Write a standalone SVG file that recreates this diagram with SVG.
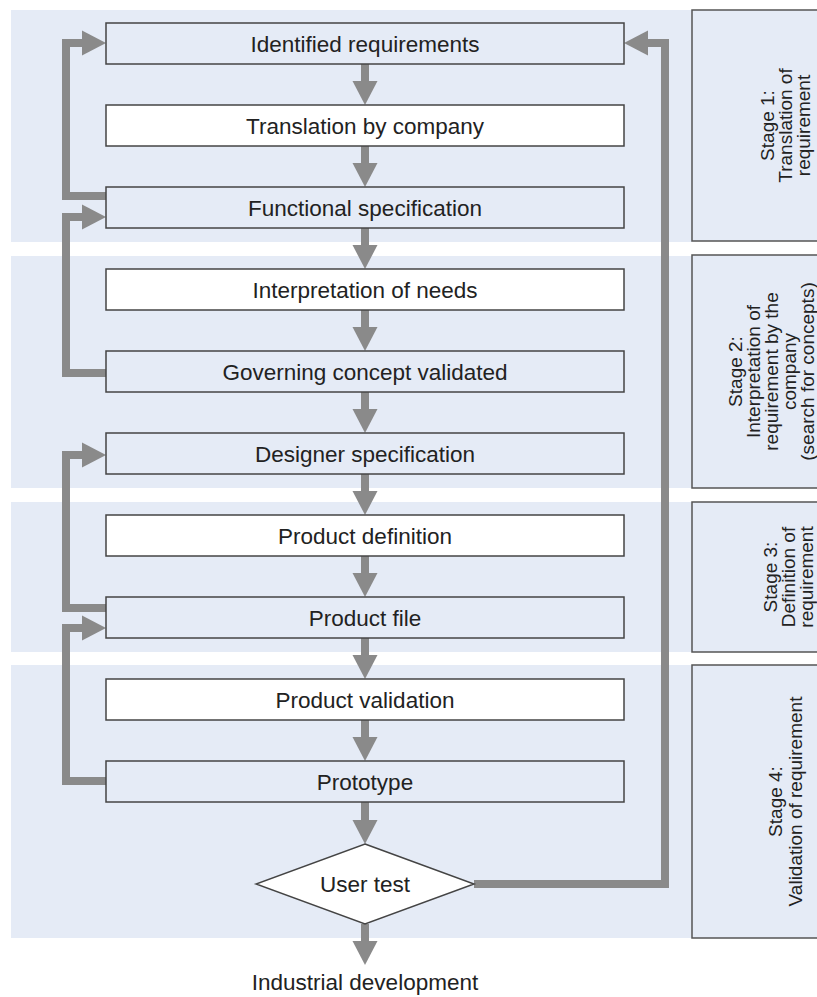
<svg xmlns="http://www.w3.org/2000/svg" width="817" height="997" viewBox="0 0 817 997">
<defs>
<marker id="ah" markerUnits="userSpaceOnUse" markerWidth="24" markerHeight="26" refX="0" refY="12.5" orient="auto" overflow="visible">
<path d="M0,0 L24,12.5 L0,25 z" fill="#8a8a8a"/>
</marker>
<style>
.band{fill:#e5ebf6;}
.stage{fill:#e5ebf6;stroke:#555;stroke-width:1.5;}
.box{stroke:#444;stroke-width:1.5;}
.blue{fill:#e5ebf6;}
.white{fill:#ffffff;}
.lbl{font-family:"Liberation Sans",Arial,sans-serif;font-size:22.5px;fill:#222;text-anchor:middle;}
.stg{font-family:"Liberation Sans",Arial,sans-serif;font-size:19px;fill:#222;text-anchor:middle;}
.con{fill:none;stroke:#8a8a8a;stroke-width:8;stroke-linejoin:miter;stroke-linecap:butt;marker-end:url(#ah);}
</style>
</defs>
<g id="bands">
<rect class="band" x="11" y="10" width="681" height="232"/>
<rect class="band" x="11" y="256" width="681" height="232"/>
<rect class="band" x="11" y="502" width="681" height="150"/>
<rect class="band" x="11" y="665" width="681" height="273"/>
</g>
<g id="stage1">
<rect class="stage" x="692" y="10" width="190" height="231"/>
<text class="stg" transform="translate(785,125.5) rotate(-90)"><tspan x="0" y="-11.4">Stage 1:</tspan><tspan x="0" y="6.6">Translation of</tspan><tspan x="0" y="24.6">requirement</tspan></text>
</g>
<g id="stage2">
<rect class="stage" x="692" y="255" width="190" height="233"/>
<text class="stg" transform="translate(771,371.5) rotate(-90)"><tspan x="0" y="-29.4">Stage 2:</tspan><tspan x="0" y="-11.4">Interpretation of</tspan><tspan x="0" y="6.6">requirement by the</tspan><tspan x="0" y="24.6">company</tspan><tspan x="0" y="42.6">(search for concepts)</tspan></text>
</g>
<g id="stage3">
<rect class="stage" x="692" y="502" width="190" height="150"/>
<text class="stg" transform="translate(788,577) rotate(-90)"><tspan x="0" y="-11.4">Stage 3:</tspan><tspan x="0" y="6.6">Definition of</tspan><tspan x="0" y="24.6">requirement</tspan></text>
</g>
<g id="stage4">
<rect class="stage" x="692" y="665" width="190" height="273"/>
<text class="stg" transform="translate(785,801.5) rotate(-90)"><tspan x="0" y="-3.4">Stage 4:</tspan><tspan x="0" y="16.6">Validation of requirement</tspan></text>
</g>
<g id="connectors">
<path class="con" d="M365,64 V81"/>
<path class="con" d="M365,146 V163"/>
<path class="con" d="M365,228 V245"/>
<path class="con" d="M365,310 V327"/>
<path class="con" d="M365,392 V409"/>
<path class="con" d="M365,474 V491"/>
<path class="con" d="M365,556 V573"/>
<path class="con" d="M365,638 V655"/>
<path class="con" d="M365,720 V737"/>
<path class="con" d="M365,802 V820"/>
<path class="con" d="M365,924 V941"/>
<path class="con" d="M106,196 H66 V43 H82"/>
<path class="con" d="M106,373 H66 V217 H82"/>
<path class="con" d="M106,608 H66 V455 H82"/>
<path class="con" d="M106,781 H66 V628 H82"/>
<path class="con" d="M474,884 H665 V43 H648"/>
</g>
<g id="n1"><rect class="box blue" x="106" y="23" width="518" height="41"/><text class="lbl" x="365" y="51.5">Identified requirements</text></g>
<g id="n2"><rect class="box white" x="106" y="105" width="518" height="41"/><text class="lbl" x="365" y="133.5">Translation by company</text></g>
<g id="n3"><rect class="box blue" x="106" y="187" width="518" height="41"/><text class="lbl" x="365" y="215.5">Functional specification</text></g>
<g id="n4"><rect class="box white" x="106" y="269" width="518" height="41"/><text class="lbl" x="365" y="297.5">Interpretation of needs</text></g>
<g id="n5"><rect class="box blue" x="106" y="351" width="518" height="41"/><text class="lbl" x="365" y="379.5">Governing concept validated</text></g>
<g id="n6"><rect class="box blue" x="106" y="433" width="518" height="41"/><text class="lbl" x="365" y="461.5">Designer specification</text></g>
<g id="n7"><rect class="box white" x="106" y="515" width="518" height="41"/><text class="lbl" x="365" y="543.5">Product definition</text></g>
<g id="n8"><rect class="box blue" x="106" y="597" width="518" height="41"/><text class="lbl" x="365" y="625.5">Product file</text></g>
<g id="n9"><rect class="box white" x="106" y="679" width="518" height="41"/><text class="lbl" x="365" y="707.5">Product validation</text></g>
<g id="n10"><rect class="box blue" x="106" y="761" width="518" height="41"/><text class="lbl" x="365" y="789.5">Prototype</text></g>
<g id="n11"><polygon class="box white" points="365,844 474,884 365,924 256,884"/><text class="lbl" x="365" y="892">User test</text></g>
<g id="n12"><text class="lbl" x="365" y="990">Industrial development</text></g>
</svg>
